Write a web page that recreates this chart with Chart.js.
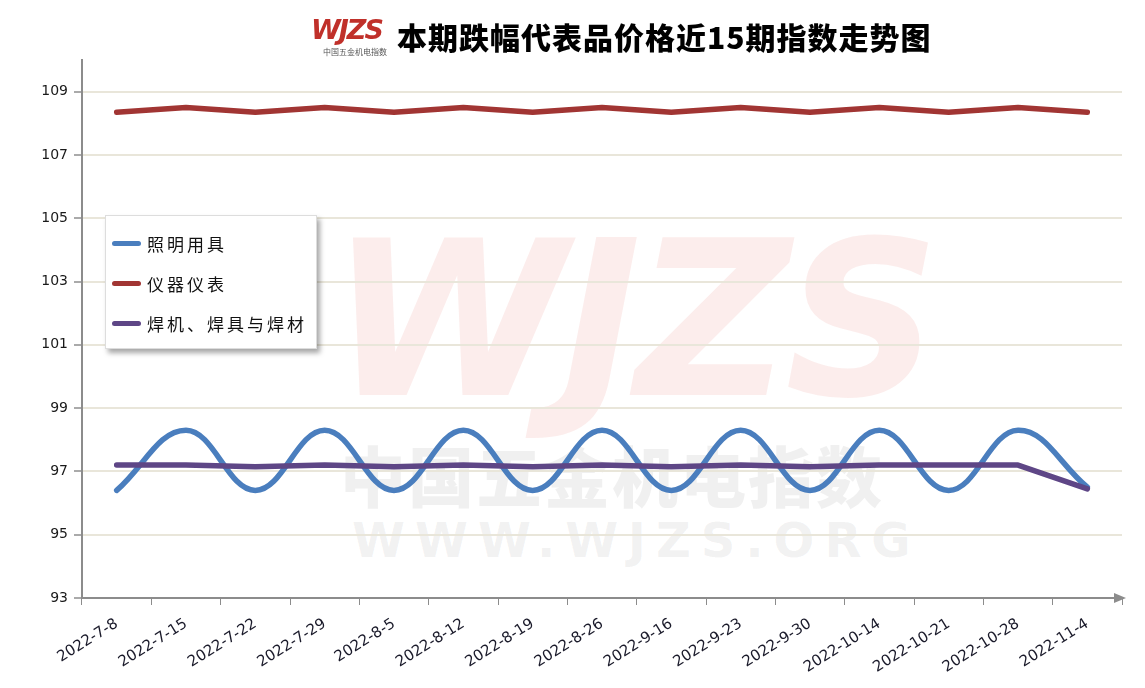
<!DOCTYPE html>
<html>
<head>
<meta charset="utf-8">
<script src="https://cdn.jsdelivr.net/npm/chart.js@4.4.1/dist/chart.umd.min.js"></script>
<style>
  html, body { margin: 0; padding: 0; background: #fff; }
  #wrap { position: relative; width: 1145px; height: 688px; overflow: hidden; }
  #chart { position: absolute; left: 0; top: 0; z-index: 2; }
  .wm { position: absolute; z-index: 1; font-family: "DejaVu Sans", sans-serif; white-space: nowrap; }
  #wm-logo { left: 330px; top: 195px; font-size: 215px; font-weight: bold; font-style: italic; color: rgba(225, 90, 80, 0.11); letter-spacing: -6px; }
  #wm-cn { left: 340px; top: 425px; font-family: "Noto Sans CJK SC"; font-size: 66px; font-weight: 900; color: rgba(120, 120, 120, 0.11); letter-spacing: 2px; }
  #wm-url { left: 352px; top: 512px; font-size: 48px; font-weight: bold; color: rgba(120, 120, 120, 0.10); letter-spacing: 10px; }
  #title { position: absolute; z-index: 3; left: 305px; top: 8px; height: 56px; display: flex; align-items: center; }
  #logo { width: 86px; height: 56px; position: relative; }
  #logo .big { position: absolute; left: 6px; top: 6px; font-family: "DejaVu Sans"; font-weight: bold; font-style: italic; font-size: 27px; color: #c0302a; letter-spacing: -2px; }
  #logo .small { position: absolute; left: 18px; top: 38px; font-family: "Noto Sans CJK SC"; font-size: 8px; color: #555; }
  #title h1 { margin: 0 0 0 6px; font-family: "Noto Sans CJK SC"; font-weight: 900; font-size: 30px; color: #000; letter-spacing: 1px; }
  #legend { position: absolute; z-index: 3; left: 105px; top: 215px; width: 212px; height: 134px; background: #fff; border: 1px solid #ddd; box-shadow: 3px 4px 5px rgba(0,0,0,0.35); box-sizing: border-box; padding-top: 7px; }
  #legend .item { display: flex; align-items: center; height: 40px; padding-left: 6px; }
  #legend .sw { width: 29px; height: 5px; border-radius: 3px; margin-right: 6px; }
  #legend .lbl { font-family: "Noto Sans CJK SC"; font-size: 17px; color: #111; letter-spacing: 3px; }
</style>
</head>
<body>
<div id="wrap">
  <div class="wm" id="wm-logo">WJZS</div>
  <div class="wm" id="wm-cn">中国五金机电指数</div>
  <div class="wm" id="wm-url">WWW.WJZS.ORG</div>
  <canvas id="chart" width="1145" height="688"></canvas>
  <div id="title">
    <div id="logo"><span class="big">WJZS</span><span class="small">中国五金机电指数</span></div>
    <h1>本期跌幅代表品价格近15期指数走势图</h1>
  </div>
  <div id="legend"></div>
</div>
<script>
// categories (weekly periods)
const dates = ['2022-7-8', '2022-7-15', '2022-7-22', '2022-7-29', '2022-8-5', '2022-8-12', '2022-8-19',
  '2022-8-26', '2022-9-16', '2022-9-23', '2022-9-30', '2022-10-14', '2022-10-21', '2022-10-28', '2022-11-4'];

// series values
const lighting = [96.4, 98.3, 96.4, 98.3, 96.4, 98.3, 96.4, 98.3, 96.4, 98.3, 96.4, 98.3, 96.4, 98.3, 96.5];
const instruments = [108.35, 108.5, 108.35, 108.5, 108.35, 108.5, 108.35, 108.5, 108.35, 108.5, 108.35, 108.5, 108.35, 108.5, 108.35];
const welding = [97.2, 97.2, 97.15, 97.2, 97.15, 97.2, 97.15, 97.2, 97.15, 97.2, 97.15, 97.2, 97.2, 97.2, 96.45];

// y axis tick labels
const yTicks = [93, 95, 97, 99, 101, 103, 105, 107, 109];

const seriesNames = ['照明用具', '仪器仪表', '焊机、焊具与焊材'];
const seriesColors = ['#4a7ebe', '#a13533', '#5e4686'];

const axisColor = '#8c8c8c';
const gridColor = '#e9e6da';

// arrow at the end of the x axis
const axisArrow = {
  id: 'axisArrow',
  afterDraw(chart) {
    const { ctx, chartArea } = chart;
    const y = chart.scales.x.top;
    ctx.save();
    ctx.fillStyle = axisColor;
    ctx.beginPath();
    ctx.moveTo(chartArea.right + 4, y);
    ctx.lineTo(chartArea.right - 8, y - 5);
    ctx.lineTo(chartArea.right - 8, y + 5);
    ctx.closePath();
    ctx.fill();
    ctx.restore();
  }
};

const ctx = document.getElementById('chart').getContext('2d');
const chart = new Chart(ctx, {
  type: 'line',
  data: {
    labels: dates,
    datasets: [lighting, instruments, welding].map((vals, i) => ({
      label: seriesNames[i],
      data: vals,
      borderColor: seriesColors[i],
      backgroundColor: seriesColors[i],
      borderWidth: 5.5,
      borderCapStyle: 'round',
      borderJoinStyle: 'round',
      pointRadius: 0,
      tension: i === 0 ? 0.4 : 0,
      order: i === 2 ? 0 : i + 1
    }))
  },
  options: {
    responsive: false,
    animation: false,
    layout: { padding: { top: 60, right: 23, left: 0, bottom: 0 } },
    plugins: {
      legend: { display: false },
      title: { display: false },
      tooltip: { enabled: false }
    },
    scales: {
      x: {
        offset: true,
        grid: { display: true, drawOnChartArea: false, drawTicks: true, tickLength: 7, offset: true, color: axisColor },
        border: { color: axisColor, width: 2 },
        ticks: {
          color: '#1a1a2a',
          font: { family: 'DejaVu Sans', size: 15 },
          minRotation: 32,
          maxRotation: 32,
          autoSkip: false,
          padding: 10
        },
        afterFit(scale) { scale.height = 90; }
      },
      y: {
        min: 93,
        max: 110,
        afterBuildTicks(axis) { axis.ticks = yTicks.map(v => ({ value: v })); },
        grid: { color: gridColor, lineWidth: 2, tickLength: 8, tickColor: '#aaa', drawTicks: true },
        border: { color: axisColor, width: 2 },
        ticks: {
          color: '#1a1a1a',
          font: { family: 'DejaVu Sans', size: 14 },
          padding: 6
        },
        afterFit(scale) { scale.width = 82; }
      }
    }
  },
  plugins: [axisArrow]
});

// HTML legend built from the datasets
const legendBox = document.getElementById('legend');
chart.data.datasets.forEach(ds => {
  const item = document.createElement('div');
  item.className = 'item';
  item.innerHTML = '<span class="sw" style="background:' + ds.borderColor + '"></span><span class="lbl">' + ds.label + '</span>';
  legendBox.appendChild(item);
});
</script>
</body>
</html>
